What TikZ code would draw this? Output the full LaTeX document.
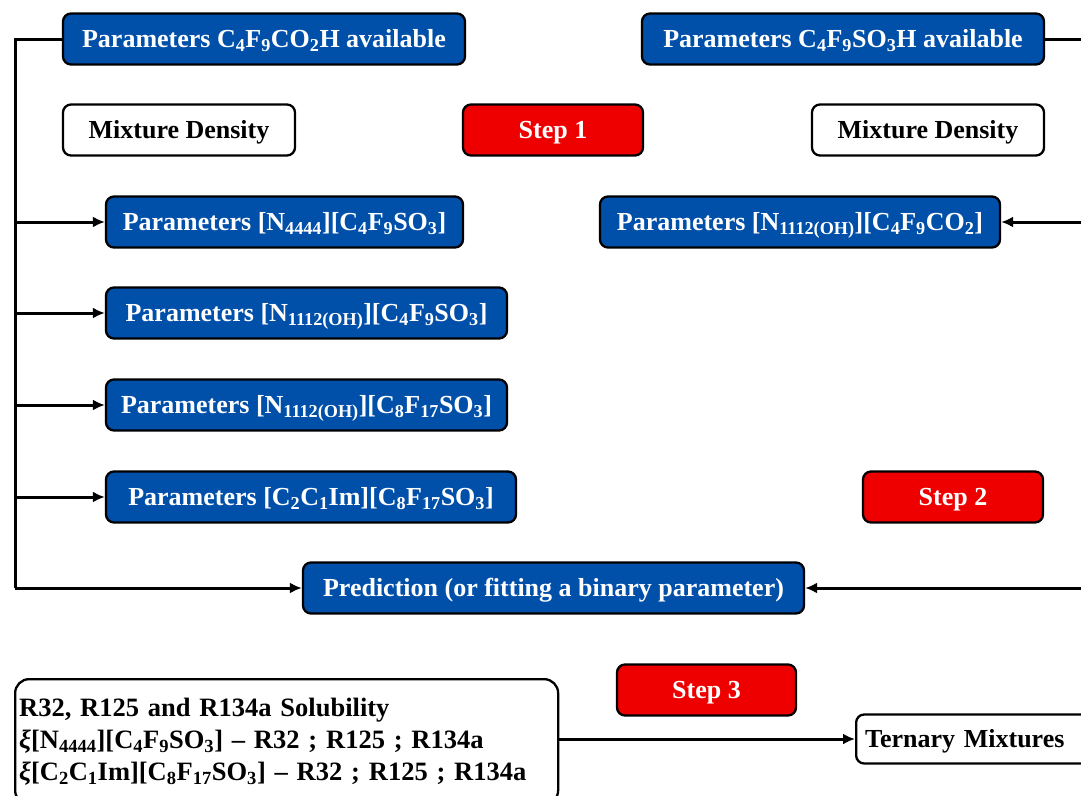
\documentclass[tikz,border=0pt]{standalone}
\usepackage{fontspec}
\setmainfont{Liberation Serif}
\usetikzlibrary{arrows.meta}
\newcommand{\sbs}[1]{\textsubscript{#1}}
\definecolor{myblue}{RGB}{0,80,170}
\definecolor{myred}{RGB}{238,0,0}
\begin{document}
\begin{tikzpicture}[x=1pt,y=-1pt,
  box/.style={draw=black, line width=2.3pt, rounded corners=8pt, minimum height=51pt,
    font=\fontsize{26}{30}\selectfont\bfseries, inner xsep=0pt, inner ysep=0pt,
    text height=17.2pt, text depth=0pt},
  bluebox/.style={box, fill=myblue, text=white},
  redbox/.style={box, fill=myred, text=white},
  whitebox/.style={box, fill=white, text=black},
  conn/.style={line width=3pt, draw=black},
  arr/.style={conn, -{Latex[length=12pt,width=11pt]}}]
\useasboundingbox (0,0) rectangle (1081,795);
\clip (0,0) rectangle (1081,795);

\node[bluebox, minimum width=402pt] (b1) at (264,39) {Parameters C\sbs{4}F\sbs{9}CO\sbs{2}H available};
\node[bluebox, minimum width=402pt] (b2) at (843,39) {Parameters C\sbs{4}F\sbs{9}SO\sbs{3}H available};
\node[whitebox, minimum width=232pt] (md1) at (179,130) {Mixture Density};
\node[redbox, minimum width=180pt] (s1) at (553,130) {Step 1};
\node[whitebox, minimum width=232pt] (md2) at (928,130) {Mixture Density};
\node[bluebox, minimum width=357pt] (p1) at (284.5,222) {Parameters [N\sbs{4444}][C\sbs{4}F\sbs{9}SO\sbs{3}]};
\node[bluebox, minimum width=400pt] (p6) at (800,222) {Parameters [N\sbs{1112(OH)}][C\sbs{4}F\sbs{9}CO\sbs{2}]};
\node[bluebox, minimum width=401pt] (p2) at (306.5,313) {Parameters [N\sbs{1112(OH)}][C\sbs{4}F\sbs{9}SO\sbs{3}]};
\node[bluebox, minimum width=401pt] (p3) at (306.5,405) {Parameters [N\sbs{1112(OH)}][C\sbs{8}F\sbs{17}SO\sbs{3}]};
\node[bluebox, minimum width=410pt] (p4) at (311,497) {Parameters [C\sbs{2}C\sbs{1}Im][C\sbs{8}F\sbs{17}SO\sbs{3}]};
\node[redbox, minimum width=180pt] (s2) at (953,497) {Step 2};
\node[bluebox, minimum width=501pt] (pr) at (553.5,588) {Prediction (or fitting a binary parameter)};
\node[redbox, minimum width=179pt] (s3) at (706.5,690) {Step 3};
\node[whitebox, anchor=north west, minimum width=542pt, rounded corners=14pt,
  align=left, text width=535pt, inner xsep=4pt, inner ysep=19pt,
  text height=, text depth=, font=\fontsize{26.5}{32}\selectfont\bfseries] (sol) at (14,678)
  {R32, R125 and R134a Solubility\\
   \textit{ξ}[N\sbs{4444}][C\sbs{4}F\sbs{9}SO\sbs{3}] – R32 ; R125 ; R134a\\
   \textit{ξ}[C\sbs{2}C\sbs{1}Im][C\sbs{8}F\sbs{17}SO\sbs{3}] – R32 ; R125 ; R134a};
\node[whitebox, anchor=west, minimum width=240pt, minimum height=49pt, align=left,
  text width=222pt, inner xsep=9pt] (tm) at (855,739) {Ternary Mixtures};

\coordinate (lt) at (15,39);
\coordinate (lb) at (15,588);
\coordinate (rt) at (1092,39);
\coordinate (rb) at (1092,588);

\draw[conn] (b1.west) -- (lt) -- (lb);
\draw[arr] (lb) -- (pr.west);
\foreach \n in {p1,p2,p3,p4} \draw[arr] (lt |- \n.west) -- (\n.west);
\draw[conn] (b2.east) -- (rt) -- (rb);
\draw[arr] (rb) -- (pr.east);
\draw[arr] (rt |- p6.east) -- (p6.east);
\draw[arr] (sol.east |- tm.west) -- (tm.west);
\end{tikzpicture}
\end{document}
